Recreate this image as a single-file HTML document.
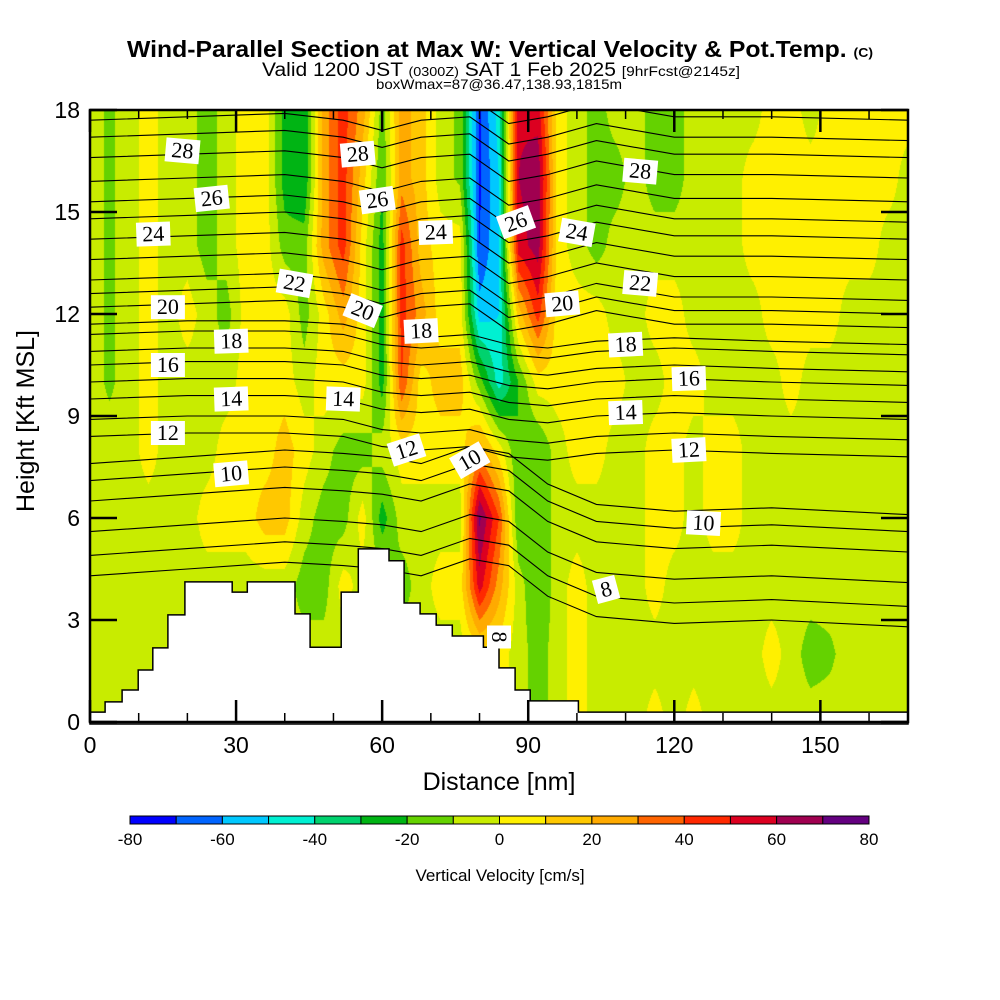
<!DOCTYPE html>
<html><head><meta charset="utf-8">
<style>
html,body{margin:0;padding:0;background:#fff;}
#wrap{position:relative;width:1000px;height:1000px;overflow:hidden;font-family:"Liberation Sans",sans-serif;}
canvas{position:absolute;left:90px;top:110px;}
svg{position:absolute;left:0;top:0;}
</style></head>
<body>
<div id="wrap">
<canvas id="field" width="818" height="612"></canvas>
<svg id="svg" width="1000" height="1000">
  <defs><clipPath id="plotclip"><rect x="90" y="110" width="818" height="612"/></clipPath></defs>
  <g id="contours" clip-path="url(#plotclip)"></g>
  <g id="terrain"></g>
  <g id="clabels"></g>
  <g id="axes"></g>
  <g id="cbar"></g>
  <g font-family="Liberation Sans, sans-serif">
    <text x="127" y="57" font-size="23" font-weight="bold" textLength="746" lengthAdjust="spacingAndGlyphs">Wind-Parallel Section at Max W: Vertical Velocity &amp; Pot.Temp. <tspan font-size="13">(C)</tspan></text>
    <text x="262" y="76" font-size="19" textLength="478" lengthAdjust="spacingAndGlyphs">Valid 1200 JST <tspan font-size="13">(0300Z)</tspan> SAT 1 Feb 2025 <tspan font-size="14">[9hrFcst@2145z]</tspan></text>
    <text x="376" y="89" font-size="14" textLength="246" lengthAdjust="spacingAndGlyphs">boxWmax=87@36.47,138.93,1815m</text>
    <text x="499" y="790" font-size="25" text-anchor="middle">Distance [nm]</text>
    <text x="0" y="0" font-size="25" text-anchor="middle" transform="translate(34,421) rotate(-90)">Height [Kft MSL]</text>
    <text x="500" y="881" font-size="17" text-anchor="middle">Vertical Velocity [cm/s]</text>
  </g>
</svg>
</div>
<script>
// ---------- data ----------
const colNm = [0,4,8,12,16,20,24,28,32,36,40,44,48,52,56,60,64,68,72,76,80,84,88,92,96,100,104,108,112,116,120,124,128,132,136,140,144,148,152,156,160,164,168];
const rowKft = [18,16,14,12,10,8,6,4,2,0];
const wRow18 = [-5,-12,-5,5,-5,-5,-15,-5,5,5,-25,-30,25,45,25,-15,25,15,-5,-12,-72,-45,58,55,5,-5,-15,-5,-5,-15,-15,-5,-5,-5,-5,5,5,-5,5,5,5,5,5];
const wRow16 = [-5,-12,-5,5,-5,-5,-15,-5,5,5,-25,-30,25,45,15,-20,25,15,-5,-12,-72,-50,60,68,5,-5,-15,-15,-5,-15,-15,-5,-5,-5,5,5,5,5,5,5,5,5,-5];
const wRow14 = [-5,-12,-5,5,-5,-5,-15,-5,5,5,-15,-15,25,45,5,-25,45,15,5,5,-70,-50,55,65,5,-5,-15,-5,-5,-5,-5,-5,-5,-5,5,5,5,5,5,5,5,-5,-5];
const wRow12 = [-5,-12,-5,5,-5,5,-5,-15,5,5,5,-15,5,25,5,-25,45,25,5,5,-55,-50,15,45,5,5,5,-5,-5,5,5,-5,-5,-5,-5,5,5,5,5,-5,-5,-5,-5];
const wRow10 = [-5,-12,-5,5,-5,-5,-5,-5,5,5,5,-5,5,5,5,-25,40,5,15,15,-15,-45,-20,5,5,5,5,5,-5,-5,5,5,-5,-5,-5,-5,5,-5,-5,-5,-5,-5,-5];
const wRow8  = [-5,-5,-5,5,-5,-5,-5,5,5,5,15,5,-5,-15,-15,-5,5,5,5,5,25,5,-20,-20,-5,5,5,-5,-5,5,5,-5,5,5,-5,-5,-5,-5,-5,-5,-5,-5,-5];
const wRow6  = [-5,-5,-5,-5,-5,-5,5,5,5,15,15,-5,-15,-15,5,-25,-5,-5,-5,-5,72,40,-20,-20,-5,-5,-5,-5,-5,5,5,-5,5,5,-5,-5,-5,-5,-5,-5,-5,-5,-5];
const wRow4  = [-5,-5,-5,-5,-5,-5,-5,-5,-5,-5,-5,-15,-15,5,-5,-5,-15,-5,5,5,55,25,-5,-20,-5,5,-5,-5,-5,5,-5,-5,-5,-5,-5,-5,-5,-5,-5,-5,-5,-5,-5];
const wRow2  = [-5,-5,-5,-5,-5,-5,-5,-5,-5,-5,-5,-5,-5,-5,-5,-5,-5,-5,-5,-5,5,5,-5,-15,-5,5,-5,-5,-5,-5,-5,-5,-5,-5,-5,5,-5,-15,-12,-5,-5,-5,-5];
const wRow0  = [-5,-5,-5,-5,-5,-5,-5,-5,-5,-5,-5,-5,-5,-5,-5,-5,-5,-5,-5,-5,5,5,-5,-15,-5,5,-5,-5,-5,5,-5,5,-5,-5,-5,-5,-5,-5,-5,-5,-5,-5,-5];
const wGrid = [wRow18,wRow16,wRow14,wRow12,wRow10,wRow8,wRow6,wRow4,wRow2,wRow0];
const binColors = ['#0000ff','#0064ff','#00c8ff','#00f0d2','#00d26e','#00b414','#64d200','#c8ec00','#fff000','#ffc800','#ffaa00','#ff6400','#ff2800','#dc0020','#a00050','#640080'];
const cbarTicks = [-80,-60,-40,-20,0,20,40,60,80];
const terrainNm  = [0,3.1,6.6,9.9,12.9,16.0,19.5,29.2,32.3,42.1,45.2,51.6,55.1,61.4,64.5,67.8,71.1,74.4,80.8,84.0,87.3,90.4,100.3,168];
const terrainKft = [0.29,0.59,0.94,1.53,2.18,3.15,4.12,3.82,4.12,3.18,2.2,3.82,5.09,4.74,3.5,3.18,2.85,2.53,2.2,1.59,0.94,0.62,0.29,0.29];
const thetaLevels = [6,7,8,9,10,11,12,13,14,15,16,17,18,19,20,21,22,23,24,25,26,27,28,29,30,31];
const thetaBaseKft = [4.3,4.9,5.6,6.5,7.1,7.6,8.4,8.9,9.5,10.0,10.5,10.9,11.4,11.7,12.2,12.6,13.0,13.6,14.2,14.8,15.3,15.9,16.6,17.2,17.7,18.3];
const thetaNodeNm = [0,20,40,52,60,68,78,86,94,104,120,140,168];
const thetaProfileUpper = [0,0.1,0.2,0,-0.3,0,0.1,-0.7,-0.5,-0.1,-0.5,-0.5,-0.6];
const thetaProfileMid   = [0,0.1,0.1,0,-0.3,-0.4,-0.3,-0.6,-0.7,-0.5,-0.4,-0.5,-0.6];
const thetaProfileLow   = [0,0.2,0.4,0.3,0.2,0,0.5,0.3,-0.6,-1.2,-1.4,-1.3,-1.5];
const labelText = ['28','28','28','26','26','26','24','24','24','22','22','20','20','20','18','18','18','16','16','14','14','14','12','12','12','10','10','10','8','8'];
const labelNm   = [19,55,113,25,59,87.5,13,71,100,42,113,16,56,97,29,68,110,16,123,29,52,110,16,65,123,29,78,126,84,106];
const labelKft  = [16.8,16.7,16.2,15.4,15.35,14.7,14.35,14.4,14.4,12.9,12.9,12.2,12.1,12.3,11.2,11.5,11.1,10.5,10.1,9.5,9.5,9.1,8.5,8.0,8.0,7.3,7.7,5.85,2.5,3.9];
const labelRot  = [5,-5,5,-6,-8,-20,-2,-2,10,10,5,0,22,-5,-2,-3,-3,0,-2,-2,2,-2,0,-18,-3,-5,-30,3,90,-15];
const xTicks = [0,30,60,90,120,150];
const yTicks = [0,3,6,9,12,15,18];

// ---------- axes functions ----------
const X0=90, X1=908, Y0=722, Y1=110, XMAX=168, YMAX=18;
const xs = nm => X0 + nm*(X1-X0)/XMAX;
const ys = k => Y0 - k*(Y0-Y1)/YMAX;
const NS='http://www.w3.org/2000/svg';
function mk(tag, attrs, parent){const e=document.createElementNS(NS,tag);for(const k in attrs)e.setAttribute(k,attrs[k]);parent.appendChild(e);return e;}
function binOf(v){let b=Math.floor((v+80)/10);return Math.max(0,Math.min(15,b));}
function hex(c){return [parseInt(c.substr(1,2),16),parseInt(c.substr(3,2),16),parseInt(c.substr(5,2),16)];}

// ---------- field ----------
(function(){
  const cv=document.getElementById('field'),ctx=cv.getContext('2d');
  const W=cv.width,H=cv.height,img=ctx.createImageData(W,H);
  const rgb=binColors.map(hex);
  const nC=colNm.length,nR=rowKft.length;
  for(let py=0;py<H;py++){
    const k=(Y0-(Y1+py+0.5))*YMAX/(Y0-Y1);
    let rf=(rowKft[0]-k)/(rowKft[0]-rowKft[1]); rf=Math.max(0,Math.min(nR-1.0001,rf));
    const r=Math.floor(rf),fr=rf-r;
    for(let px=0;px<W;px++){
      const nm=(px+0.5)*XMAX/(X1-X0);
      let cf=nm/(colNm[1]-colNm[0]); cf=Math.max(0,Math.min(nC-1.0001,cf));
      const c=Math.floor(cf),fc=cf-c;
      const v=(1-fr)*((1-fc)*wGrid[r][c]+fc*wGrid[r][c+1])+fr*((1-fc)*wGrid[r+1][c]+fc*wGrid[r+1][c+1]);
      const col=rgb[binOf(v)],i=(py*W+px)*4;
      img.data[i]=col[0];img.data[i+1]=col[1];img.data[i+2]=col[2];img.data[i+3]=255;
    }
  }
  ctx.putImageData(img,0,0);
})();

// ---------- contours ----------
(function(){
  const g=document.getElementById('contours');
  thetaLevels.forEach((lv,i)=>{
    const prof = lv>=20?thetaProfileUpper:(lv>=12?thetaProfileMid:thetaProfileLow);
    const pts=thetaNodeNm.map((nm,j)=>xs(nm).toFixed(1)+','+ys(thetaBaseKft[i]+prof[j]).toFixed(1));
    const p=mk('polyline',{points:pts.join(' '),fill:'none',stroke:'#000','stroke-width':'1.1'},g);
    
    
  });
})();

// ---------- terrain ----------
(function(){
  const g=document.getElementById('terrain');
  let d='M'+xs(0)+','+(Y0+2);
  for(let i=0;i<terrainNm.length;i++){
    d+=' L'+xs(terrainNm[i]).toFixed(1)+','+ys(terrainKft[i]).toFixed(1);
    const next = i+1<terrainNm.length?terrainNm[i+1]:XMAX;
    d+=' L'+xs(next).toFixed(1)+','+ys(terrainKft[i]).toFixed(1);
  }
  d+=' L'+X1+','+(Y0+2)+' Z';
  const p=mk('path',{d:d,fill:'#fff',stroke:'#000','stroke-width':'1.5'},g);
  
  
})();

// ---------- contour labels ----------
(function(){
  const g=document.getElementById('clabels');
  labelText.forEach((t,i)=>{
    const x=xs(labelNm[i]),y=ys(labelKft[i]);
    const grp=mk('g',{transform:`translate(${x.toFixed(1)},${y.toFixed(1)}) rotate(${labelRot[i]})`},g);
    
    
    const w=t.length*11+12;
    mk('rect',{x:-w/2,y:-12,width:w,height:24,fill:'#fff'},grp);
    const tx=mk('text',{x:0,y:7,'text-anchor':'middle','font-family':'Liberation Serif, serif','font-size':'22'},grp);
    tx.textContent=t;
  });
})();

// ---------- axes ----------
(function(){
  const g=document.getElementById('axes');
  const fr=mk('rect',{x:X0,y:Y1,width:X1-X0,height:Y0-Y1,fill:'none',stroke:'#000','stroke-width':'2.5'},g);
  
  
  for(let nm=0;nm<=XMAX;nm+=10){
    const x=xs(nm);
    mk('line',{x1:x,y1:Y0,x2:x,y2:Y0-9,stroke:'#000','stroke-width':'1.5'},g);
    mk('line',{x1:x,y1:Y1,x2:x,y2:Y1+9,stroke:'#000','stroke-width':'1.5'},g);
  }
  xTicks.forEach(v=>{
    const x=xs(v);
    mk('line',{x1:x,y1:Y0,x2:x,y2:Y0-22,stroke:'#000','stroke-width':'2.5'},g);
    mk('line',{x1:x,y1:Y1,x2:x,y2:Y1+22,stroke:'#000','stroke-width':'2.5'},g);
    const t=mk('text',{x:x,y:753,'text-anchor':'middle','font-size':'23'},g);
    
    
    t.textContent=v;
  });
  yTicks.forEach(v=>{
    const y=ys(v);
    mk('line',{x1:X0,y1:y,x2:X0+27,y2:y,stroke:'#000','stroke-width':'2.5'},g);
    mk('line',{x1:X1,y1:y,x2:X1-27,y2:y,stroke:'#000','stroke-width':'2.5'},g);
    const t=mk('text',{x:80,y:y+8,'text-anchor':'end','font-size':'23'},g);
    
    
    t.textContent=v;
  });
})();

// ---------- colorbar ----------
(function(){
  const g=document.getElementById('cbar');
  const cx0=130,cx1=869,cy=816,ch=8,bw=(cx1-cx0)/binColors.length;
  binColors.forEach((c,i)=>{
    const r=mk('rect',{x:cx0+i*bw,y:cy,width:bw,height:ch,fill:c,stroke:'#000','stroke-width':'1'},g);
    
    
  });
  cbarTicks.forEach(v=>{
    const x=cx0+(v+80)/160*(cx1-cx0);
    const t=mk('text',{x:x,y:845,'text-anchor':'middle','font-size':'17'},g);
    
    
    t.textContent=v;
  });
})();
</script>
</body></html>
